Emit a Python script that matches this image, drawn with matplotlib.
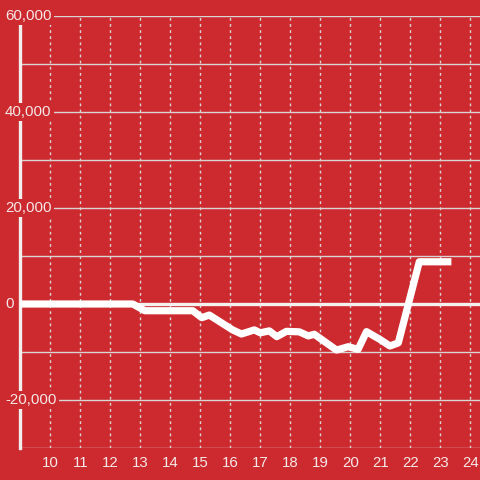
import matplotlib
matplotlib.use("Agg")
import matplotlib.pyplot as plt
import matplotlib.transforms as mtransforms
from matplotlib.ticker import FixedLocator

# ---- data ----
hours = [9, 12.75, 13.15, 14.75, 15.05, 15.3, 16.08, 16.37, 16.8, 17.0, 17.3,
         17.55, 17.87, 18.3, 18.6, 18.8, 19.54, 19.93, 20.26, 20.54, 20.98,
         21.32, 21.6, 22.3, 23.37]
values = [0, 0, -1400, -1400, -2850, -2300, -5400, -6250, -5400, -6000, -5600,
          -6800, -5700, -5800, -6650, -6300, -9600, -8900, -9450, -5760, -7350,
          -8750, -8100, 8800, 8800]
x_ticks = [10, 11, 12, 13, 14, 15, 16, 17, 18, 19, 20, 21, 22, 23, 24]
x_tick_labels = [str(t) for t in x_ticks]
y_grid = [-30000, -20000, -10000, 0, 10000, 20000, 30000, 40000, 50000, 60000]
y_label_vals = [-20000, 0, 20000, 40000, 60000]
y_labels = ["-20,000", "0", "20,000", "40,000", "60,000"]

BG = "#cc2a2f"
TXT = "#f5e8e8"
GRID = "#d9d3d3"

plt.rcParams['font.family'] = ['Liberation Sans', 'DejaVu Sans']

fig = plt.figure(figsize=(4.8, 4.8), dpi=100, facecolor=BG)
ax = fig.add_axes([20.3 / 480, 32 / 480, 459.7 / 480, 432 / 480], facecolor=BG)
ax.set_xlim(9, 9 + 459.7 / 30)
ax.set_ylim(-30000, 60000)

for s in ["top", "right", "bottom"]:
    ax.spines[s].set_visible(False)
ax.spines["left"].set_color("#f2eeee")
ax.spines["left"].set_linewidth(2.4)
ax.spines["left"].set_zorder(3)

# horizontal grid
for v in y_grid:
    if v == 0:
        continue
    ax.axhline(v, color=GRID, lw=1.0, zorder=1)
ax.axhline(0, color="#f5f1f1", lw=2.4, zorder=2)

# vertical dotted grid
for t in x_ticks:
    ax.axvline(t, color=GRID, lw=1.0, ls=(0, (2.0, 2.4)), zorder=1)

ax.plot(hours, values, color="white", lw=5.2, solid_joinstyle="round",
        solid_capstyle="butt", zorder=5)

ax.xaxis.set_major_locator(FixedLocator(x_ticks))
ax.set_xticklabels(x_tick_labels)
ax.tick_params(axis="x", length=0, pad=6, labelsize=10.8, labelcolor=TXT)
ax.set_yticks([])

trans = mtransforms.blended_transform_factory(fig.transFigure, ax.transData)
for v, lab in zip(y_label_vals, y_labels):
    ax.text(5 / 480, v, lab, transform=trans, ha="left",
            va="center", fontsize=10.8, color=TXT, zorder=4,
            bbox=dict(boxstyle="square,pad=0.15", facecolor=BG, edgecolor="none"))

fig.savefig("out.png", dpi=100, facecolor=BG)
